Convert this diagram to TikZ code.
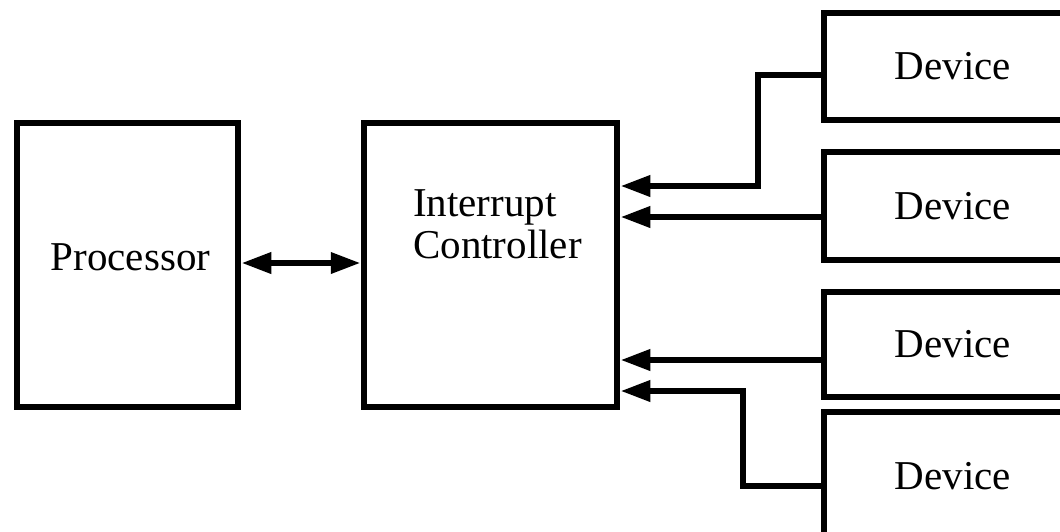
\documentclass[tikz,border=0pt]{standalone}
\usepackage{fontspec}
\setmainfont{Liberation Serif}
\usetikzlibrary{arrows.meta}
\begin{document}
\begin{tikzpicture}[x=1pt,y=-1pt,
  box/.style={draw, line width=6.5pt, rectangle, inner sep=0pt},
  lbl/.style={font=\fontsize{41}{42}\selectfont, inner sep=0pt},
  devbox/.style={box, minimum width=258pt, font=\fontsize{41}{42}\selectfont},
  tip/.tip={Triangle[length=30pt,width=20pt]},
  arr/.style={line width=6.5pt, -tip},
  darr/.style={line width=6.5pt, tip-tip}]
\useasboundingbox (0,0) rectangle (1060,531);
\fill[white] (0,0) rectangle (1060,531);
\clip (0,0) rectangle (1060,531);
% main boxes
\node[box, minimum width=221pt, minimum height=284pt] (proc) at (127.5,265) {};
\node[box, minimum width=253pt, minimum height=284pt] (ctrl) at (490.5,265) {};
\node[lbl, anchor=base] (proctext) at (130.5,270) {Processor};
\node[lbl, anchor=base west, align=left] (ctrltext) at (413,258) {Interrupt\\Controller};
% devices
\node[devbox, minimum height=107pt] (dev1) at (953,66.5) {Device};
\node[devbox, minimum height=108pt] (dev2) at (953,206) {Device};
\node[devbox, minimum height=105pt] (dev3) at (953,344.5) {Device};
\node[devbox, minimum height=128pt] (dev4) at (953,476) {Device};
% connectors
\coordinate (j1) at (758,75);
\coordinate (j4) at (743,486);
\draw[darr] (proc.east |- 0,263) -- (ctrl.west |- 0,263);
\draw[arr] (dev1.west |- j1) -- (j1) |- (ctrl.east |- 0,186);
\draw[arr] (dev2.west |- 0,217) -- (ctrl.east |- 0,217);
\draw[arr] (dev3.west |- 0,360) -- (ctrl.east |- 0,360);
\draw[arr] (dev4.west |- j4) -- (j4) |- (ctrl.east |- 0,391);
\end{tikzpicture}
\end{document}
